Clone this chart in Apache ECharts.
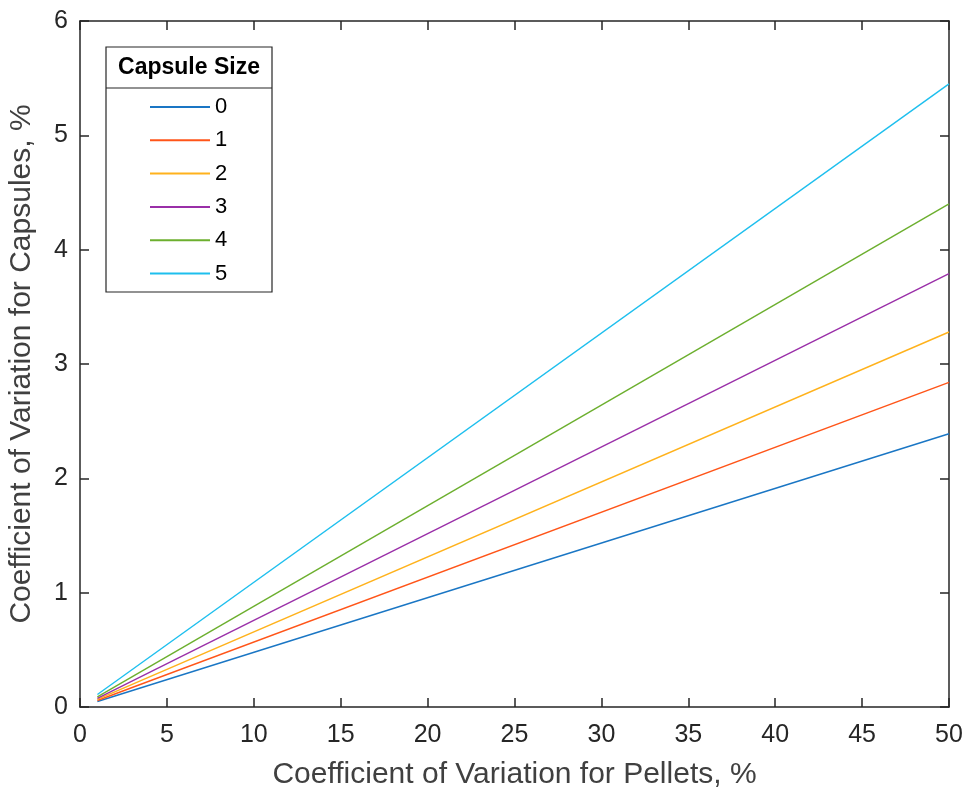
<!DOCTYPE html>
<html>
<head>
<meta charset="utf-8">
<script src="https://cdn.jsdelivr.net/npm/echarts@6/dist/echarts.min.js"></script>
<style>html,body{margin:0;padding:0;background:#fff;}#chart{width:966px;height:789px;}</style>
</head>
<body>
<div id="chart"></div>
<script>
const xPoints = [1, 50];
const sizeNames = ['0', '1', '2', '3', '4', '5'];
const cap0 = [0.048, 2.39];
const cap1 = [0.057, 2.84];
const cap2 = [0.066, 3.28];
const cap3 = [0.076, 3.79];
const cap4 = [0.088, 4.40];
const cap5 = [0.109, 5.45];
const seriesValues = [cap0, cap1, cap2, cap3, cap4, cap5];
const colors = ['#1A76C4', '#FF5519', '#FFB21C', '#9A2FA8', '#6CAF2E', '#1EBFEE'];
const xTicks = [0, 5, 10, 15, 20, 25, 30, 35, 40, 45, 50];
const yTicks = [0, 1, 2, 3, 4, 5, 6];

const chart = echarts.init(document.getElementById('chart'));
const axisColor = '#262626';
const font = 'Liberation Sans, Arial, sans-serif';

const series = seriesValues.map((vals, i) => ({
  name: sizeNames[i],
  type: 'line',
  data: xPoints.map((x, j) => [x, vals[j]]),
  showSymbol: false,
  symbol: 'none',
  lineStyle: { width: 1.4, color: colors[i] },
  itemStyle: { color: colors[i] },
  emphasis: { disabled: true },
  silent: true,
  z: 3
}));

const commonX = {
  type: 'value', min: xTicks[0], max: xTicks[xTicks.length - 1], interval: 5,
  axisLine: { show: true, onZero: false, lineStyle: { color: axisColor, width: 1.5 } },
  axisTick: { show: true, inside: true, length: 9, lineStyle: { color: axisColor, width: 1.5 } },
  splitLine: { show: false }
};
const commonY = {
  type: 'value', min: yTicks[0], max: yTicks[yTicks.length - 1], interval: 1,
  axisLine: { show: true, onZero: false, lineStyle: { color: axisColor, width: 1.5 } },
  axisTick: { show: true, inside: true, length: 9, lineStyle: { color: axisColor, width: 1.5 } },
  splitLine: { show: false }
};

chart.setOption({
  animation: false,
  color: colors,
  grid: { left: 80, right: 17, top: 21, bottom: 82, containLabel: false, outerBoundsMode: 'none' },
  xAxis: [
    Object.assign({}, commonX, {
      position: 'bottom',
      name: 'Coefficient of Variation for Pellets, %',
      nameLocation: 'middle', nameGap: 53,
      nameTextStyle: { fontSize: 30, color: '#404040', fontFamily: font },
      axisLabel: { show: true, fontSize: 25, color: axisColor, fontFamily: font, margin: 16 }
    }),
    Object.assign({}, commonX, { position: 'top', axisLabel: { show: false } })
  ],
  yAxis: [
    Object.assign({}, commonY, {
      position: 'left',
      name: 'Coefficient of Variation for Capsules, %',
      nameLocation: 'middle', nameGap: 43,
      nameTextStyle: { fontSize: 30, color: '#404040', fontFamily: font },
      axisLabel: { show: true, fontSize: 25, color: axisColor, fontFamily: font, margin: 12 }
    }),
    Object.assign({}, commonY, { position: 'right', axisLabel: { show: false } })
  ],
  legend: {
    show: true,
    data: sizeNames,
    orient: 'vertical',
    left: 149, top: 96,
    padding: 0,
    itemWidth: 60, itemHeight: 2, itemGap: 11.3,
    itemStyle: { opacity: 0 },
    textStyle: { fontSize: 22, lineHeight: 22, color: '#000', fontFamily: font },
    selectedMode: false,
    z: 10
  },
  graphic: [
    { type: 'rect', z: 5, shape: { x: 106, y: 47, width: 166, height: 245 },
      style: { fill: '#fff', stroke: axisColor, lineWidth: 1.2 } },
    { type: 'line', z: 6, shape: { x1: 106, y1: 88, x2: 272, y2: 88 },
      style: { stroke: axisColor, lineWidth: 1.2 } },
    { type: 'text', z: 6, x: 189, y: 68,
      style: { text: 'Capsule Size', fontSize: 23, fontWeight: 'bold', fontFamily: font,
        fill: '#000', align: 'center', verticalAlign: 'middle' } }
  ],
  series: series
});
</script>
</body>
</html>
